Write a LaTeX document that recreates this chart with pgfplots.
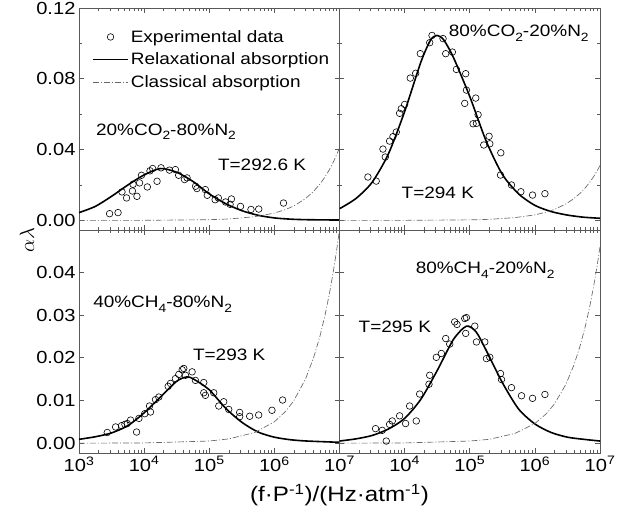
\documentclass[border=0pt]{standalone}
\usepackage{pgfplots}
\pgfplotsset{compat=1.18}
\usepgfplotslibrary{groupplots}
\usepackage{fontspec}
\setmainfont[FakeStretch=1.15]{Liberation Sans}
\definecolor{framegray}{gray}{0.35}
\definecolor{classgray}{gray}{0.4}
\newcommand\annfont{\fontsize{16.5}{19}\selectfont}
\newcommand\sub[1]{\raisebox{-0.5ex}{\fontsize{12}{12}\selectfont #1}}

\begin{document}
\begin{tikzpicture}
\pgfplotsset{
  every axis/.append style={
    scale only axis, width=260.5pt, height=222.5pt,
    xmode=log, xmin=1000, xmax=10000000,
    axis line style={framegray, line width=0.6pt},
    every tick/.style={framegray, line width=0.6pt},
    tick align=inside, major tick length=5pt, minor tick length=3pt,
    xtick pos=both, ytick pos=both,
    xticklabel pos=lower, yticklabel pos=left,
    scaled y ticks=false,
    xtick={1000,10000,100000,1000000,10000000},
    minor xtick={2000,3000,4000,5000,6000,7000,8000,9000,
      20000,30000,40000,50000,60000,70000,80000,90000,
      200000,300000,400000,500000,600000,700000,800000,900000,
      2000000,3000000,4000000,5000000,6000000,7000000,8000000,9000000},
    tick label style={font=\fontsize{17.5}{20}\selectfont},
    clip=true,
  },
  expt/.style={only marks, mark=o, mark size=3.3pt, black, mark options={line width=0.6pt}},
  relax/.style={black, line width=1.6pt, smooth, tension=0.45},
  classic/.style={classgray, line width=0.65pt, dash pattern=on 6pt off 2pt on 1pt off 2pt},
  markleg/.style={legend image code/.code={\draw[##1] plot coordinates {(17.5pt,0pt)};}},
  lineleg/.style={legend image code/.code={\draw[##1] (0pt,0pt) -- (35pt,0pt);}},
}
\begin{groupplot}[group style={group name=group, group size=2 by 2, horizontal sep=0pt, vertical sep=0pt}]

% top left: 20% CO2 - 80% N2
\nextgroupplot[ymin=-0.0057, ymax=0.12, ytick={0,0.04,0.08,0.12},
  yticklabels={0.00,0.04,0.08,0.12}, minor ytick={0.02,0.06,0.10},
  xticklabels={},
  legend style={at={(rel axis cs:0.05,0.91)}, anchor=north west, draw=none, fill=none,
    font=\annfont, inner sep=0pt, row sep=5pt, legend cell align=left}]
\addplot[expt, markleg] coordinates {
 (2950,0.0038) (3980,0.0044) (4570,0.0161) (5370,0.0127) (6610,0.0166) (6760,0.0204)
 (7760,0.0136) (8510,0.0212) (9120,0.0255) (11200,0.0189) (12300,0.0280) (13500,0.0293)
 (15800,0.0221) (18200,0.0297) (24500,0.0284) (30200,0.0287) (33900,0.0255) (41700,0.0231)
 (45700,0.0240) (61700,0.0193) (64600,0.0180) (87100,0.0174) (93300,0.0142) (123000,0.0117)
 (138000,0.0127) (178000,0.0104) (219000,0.0121) (209000,0.0091) (302000,0.0079)
 (437000,0.0062) (575000,0.0064) (1380000,0.0098)};
\addlegendentry{Experimental data}
\addplot[relax, lineleg] coordinates {
 (1000,0.0044) (1778,0.0079) (3162,0.0136) (5623,0.0200) (10000,0.0257) (17783,0.0293)
 (31623,0.0272) (56234,0.0220) (100000,0.0150) (177828,0.0095) (316228,0.0055)
 (562341,0.0029) (1000000,0.0014) (1778279,0.0007) (3162278,0.0004) (10000000,0.0002)};
\addlegendentry{Relaxational absorption}
\addplot[classic, lineleg] coordinates {
 (1000,0.0000) (10000,0.00004) (100000,0.0004) (200000,0.0008) (500000,0.0021)
 (1000000,0.0041) (1500000,0.0062) (2000000,0.0082) (3000000,0.0123) (4000000,0.0164)
 (5000000,0.0205) (6000000,0.0246) (7000000,0.0287) (8000000,0.0328) (9000000,0.0369)
 (10000000,0.0410)};
\addlegendentry{Classical absorption}
\node[anchor=base west, inner sep=0pt, font=\annfont] at (rel axis cs:0.065,0.428)
  {20\%CO\sub{2}-80\%N\sub{2}};
\node[anchor=base west, inner sep=0pt, font=\annfont] at (rel axis cs:0.533,0.270) {T=292.6 K};

% top right: 80% CO2 - 20% N2
\nextgroupplot[ymin=-0.0057, ymax=0.12, ytick={0,0.04,0.08,0.12},
  yticklabels={}, minor ytick={0.02,0.06,0.10}, xticklabels={}]
\addplot[expt] coordinates {
 (2730,0.0245) (3660,0.0222) (4645,0.0403) (5047,0.0358) (5875,0.0448) (6622,0.0473)
 (7447,0.0499) (8375,0.0605) (8892,0.0631) (10000,0.0655) (12220,0.0804) (14760,0.0831)
 (17420,0.0942) (24270,0.1004) (26360,0.1045) (38900,0.1027) (42760,0.0942) (54080,0.0951)
 (62370,0.0853) (86700,0.0829) (88920,0.0736) (83750,0.0661) (123600,0.0691) (134300,0.0597)
 (112500,0.0546) (126800,0.0548) (164100,0.0426) (198200,0.0475) (203200,0.0433)
 (299900,0.0382) (296500,0.0256) (437500,0.0200) (609500,0.0162) (920400,0.0143)
 (1426000,0.0151)};
\addplot[relax] coordinates {
 (1000,0.0066) (1778,0.0123) (3162,0.0215) (5623,0.0375) (10000,0.0615) (17783,0.0895)
 (25119,0.1020) (31623,0.1045) (39811,0.1020) (56234,0.0920) (100000,0.0700)
 (177828,0.0450) (316228,0.0260) (562341,0.0150) (1000000,0.0085) (1778279,0.0050)
 (3162278,0.0030) (5623413,0.0018) (10000000,0.0012)};
\addplot[classic] coordinates {
 (1000,0.0000) (10000,0.00003) (100000,0.0003) (200000,0.0006) (500000,0.0016)
 (1000000,0.0031) (1500000,0.0047) (2000000,0.0062) (3000000,0.0093) (4000000,0.0124)
 (5000000,0.0155) (6000000,0.0186) (7000000,0.0217) (8000000,0.0248) (9000000,0.0279)
 (10000000,0.0310)};
\node[anchor=base west, inner sep=0pt, font=\annfont] at (rel axis cs:0.419,0.871)
  {80\%CO\sub{2}-20\%N\sub{2}};
\node[anchor=base west, inner sep=0pt, font=\annfont] at (rel axis cs:0.238,0.143) {T=294 K};

% bottom left: 40% CH4 - 80% N2
\nextgroupplot[ymin=-0.0023, ymax=0.0498, ytick={0,0.01,0.02,0.03,0.04},
  yticklabels={0.00,0.01,0.02,0.03,0.04},
  xticklabels={10\textsuperscript{3},10\textsuperscript{4},10\textsuperscript{5},10\textsuperscript{6},10\textsuperscript{7}}]
\addplot[expt] coordinates {
 (2716,0.0025) (3648,0.0038) (4508,0.0041) (5070,0.0044) (5508,0.0046) (6194,0.0054)
 (7656,0.0026) (8318,0.0058) (10230,0.0069) (12110,0.0087) (12530,0.0073) (14960,0.0102)
 (16830,0.0108) (23390,0.0133) (25410,0.0140) (30200,0.0151) (34120,0.0161) (38370,0.0172)
 (40640,0.0175) (43150,0.0159) (54580,0.0167) (61380,0.0147) (82410,0.0142) (82410,0.0118)
 (87300,0.0112) (117200,0.0118) (166700,0.0097) (140000,0.0087) (199100,0.0079)
 (293100,0.0072) (293100,0.0062) (417800,0.0063) (574100,0.0066) (918300,0.0077)
 (1337000,0.0101)};
\addplot[relax] coordinates {
 (1000,0.0009) (1778,0.0015) (3162,0.0024) (5623,0.0041) (10000,0.0071) (17783,0.0108)
 (31623,0.0145) (44668,0.0155) (56234,0.0151) (100000,0.0125) (177828,0.0082)
 (316228,0.0049) (562341,0.0026) (1000000,0.0014) (1778279,0.0008) (3162278,0.0005)
 (10000000,0.0002)};
\addplot[classic] coordinates {
 (1000,0.0000) (10000,0.00005) (100000,0.0005) (200000,0.0010) (500000,0.0025)
 (1000000,0.0050) (1500000,0.0075) (2000000,0.0100) (3000000,0.0150) (4000000,0.0200)
 (5000000,0.0250) (6000000,0.0300) (7000000,0.0350) (8000000,0.0400) (9000000,0.0450)
 (10000000,0.0500)};
\node[anchor=base west, inner sep=0pt, font=\annfont] at (rel axis cs:0.054,0.653)
  {40\%CH\sub{4}-80\%N\sub{2}};
\node[anchor=base west, inner sep=0pt, font=\annfont] at (rel axis cs:0.437,0.414) {T=293 K};

% bottom right: 80% CH4 - 20% N2
\nextgroupplot[ymin=-0.0023, ymax=0.0498, ytick={0,0.01,0.02,0.03,0.04},
  yticklabels={},
  xticklabels={,10\textsuperscript{4},10\textsuperscript{5},10\textsuperscript{6},10\textsuperscript{7}}]
\addplot[expt] coordinates {
 (3581,0.0034) (4529,0.0030) (5224,0.0005) (5875,0.0044) (6457,0.0052) (8375,0.0064)
 (10350,0.0046) (11940,0.0087) (15100,0.0052) (17020,0.0115) (23660,0.0138) (24270,0.0159)
 (30690,0.0201) (36640,0.0210) (42760,0.0245) (49200,0.0232) (58750,0.0284) (63830,0.0278)
 (83750,0.0292) (88920,0.0294) (86700,0.0257) (119400,0.0274) (126800,0.0237)
 (170200,0.0237) (180300,0.0198) (203200,0.0201) (296500,0.0163) (306900,0.0149)
 (437500,0.0130) (623700,0.0111) (920400,0.0105) (1426000,0.0114)};
\addplot[relax] coordinates {
 (1000,0.0005) (1778,0.0010) (3162,0.0018) (5623,0.0033) (10000,0.0058) (17783,0.0103)
 (31623,0.0170) (56234,0.0243) (89125,0.0274) (125893,0.0260) (177828,0.0218)
 (316228,0.0142) (562341,0.0080) (1000000,0.0045) (1778279,0.0025) (3162278,0.0014)
 (5623413,0.0009) (10000000,0.0005)};
\addplot[classic] coordinates {
 (1000,0.0000) (10000,0.00005) (100000,0.0005) (200000,0.0009) (500000,0.0023)
 (1000000,0.0046) (1500000,0.0069) (2000000,0.0092) (3000000,0.0138) (4000000,0.0184)
 (5000000,0.0230) (6000000,0.0276) (7000000,0.0322) (8000000,0.0368) (9000000,0.0414)
 (10000000,0.0460)};
\node[anchor=base west, inner sep=0pt, font=\annfont] at (rel axis cs:0.292,0.806)
  {80\%CH\sub{4}-20\%N\sub{2}};
\node[anchor=base west, inner sep=0pt, font=\annfont] at (rel axis cs:0.073,0.541) {T=295 K};
\end{groupplot}

\node[rotate=90, font=\fontsize{22}{24}\selectfont] at ([xshift=-52pt,yshift=-10pt]group c1r1.south west) {$\alpha\lambda$};
\node[font=\fontsize{21}{24}\selectfont] at ([yshift=-42pt]group c1r2.south east)
  {(f·P\textsuperscript{-1})/(Hz·atm\textsuperscript{-1})};

\pgfresetboundingbox
\path ([shift={(-79pt,8pt)}]group c1r1.north west) rectangle ([shift={(43pt,-60pt)}]group c2r2.south east);
\end{tikzpicture}
\end{document}
